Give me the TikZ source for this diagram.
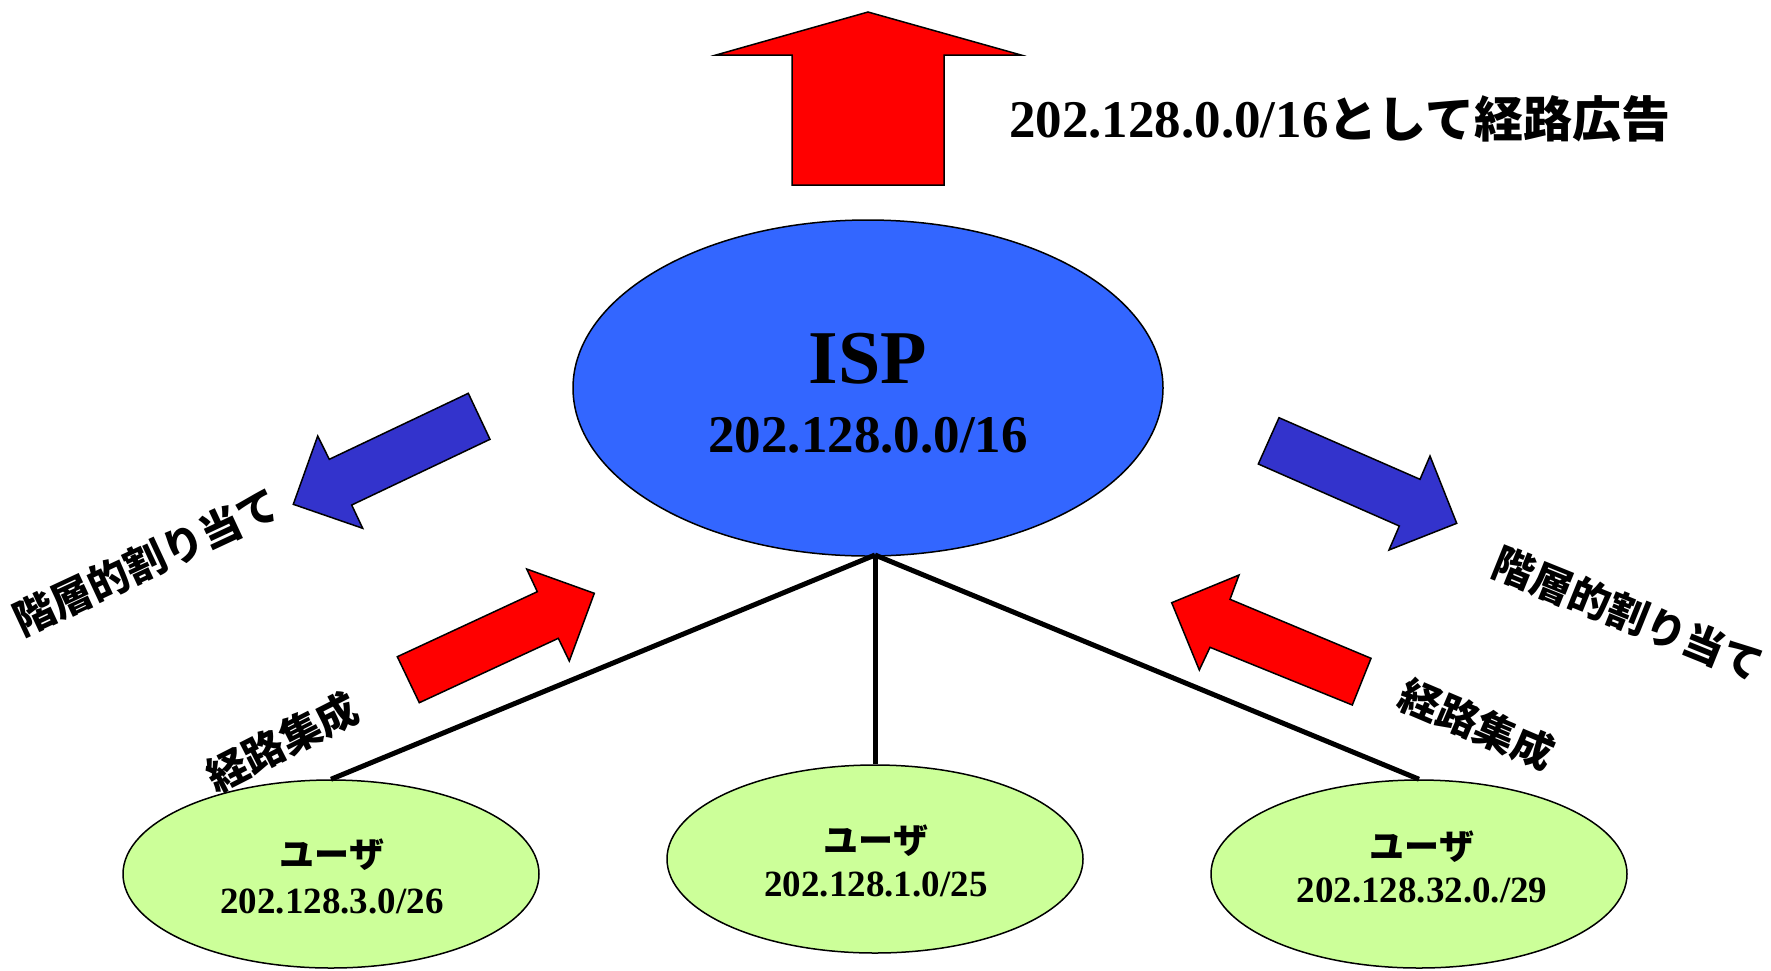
\documentclass[tikz,border=0pt]{standalone}
\usepackage{fontspec}
\setmainfont{Liberation Serif}
\newfontfamily\jp{Noto Sans CJK JP}
\usetikzlibrary{shapes.geometric}
\definecolor{ispblue}{HTML}{3366FF}
\definecolor{usergreen}{HTML}{CCFF99}
\definecolor{arrowred}{HTML}{FF0000}
\definecolor{arrowblue}{HTML}{3333CC}
\begin{document}
\begin{tikzpicture}[x=1pt,y=-1pt,
  ellbase/.style={ellipse, draw=black, line width=1.5pt, inner sep=0pt},
  ispell/.style={ellbase, fill=ispblue, minimum width=590pt, minimum height=336pt},
  userell/.style={ellbase, fill=usergreen, minimum width=416pt, minimum height=188pt},
  link/.style={line width=5pt},
  redarrow/.style={fill=arrowred, draw=black, line width=1.5pt, line join=miter},
  bluearrow/.style={fill=arrowblue, draw=black, line width=1.5pt, line join=miter},
  lbl/.style={inner sep=0pt, font=\jp\bfseries\fontsize{41}{45}\selectfont},
  usertxt/.style={inner sep=0pt, font=\jp\bfseries\fontsize{35}{40}\selectfont},
  iptxt/.style={inner sep=0pt, font=\bfseries\fontsize{37}{42}\selectfont},
]
\useasboundingbox (0,0) rectangle (1771,970);
% top arrow
\filldraw[redarrow] (868,12) -- (1021,55) -- (944,55) -- (944,185) -- (792,185) -- (792,55) -- (716,55) -- cycle;
\node[anchor=west, inner sep=0pt] (adv) at (1009,119) {\fontsize{53}{60}\selectfont\bfseries 202.128.0.0/16{\jp\fontsize{49}{55}\selectfont として経路広告}};
% ellipses
\node[ispell] (isp) at (868,388) {};
\node[userell] (u1) at (331,874) {};
\node[userell] (u2) at (875,859) {};
\node[userell] (u3) at (1419,874) {};
% texts
\node[inner sep=0pt] (ispname) at (868,359) {\fontsize{76}{80}\selectfont\bfseries ISP};
\node[inner sep=0pt] (ispnet) at (868,435) {\fontsize{53}{58}\selectfont\bfseries 202.128.0.0/16};
\node[usertxt] (u1a) at (332,855) {ユーザ};
\node[iptxt] (u1b) at (332,901) {202.128.3.0/26};
\node[usertxt] (u2a) at (876,841) {ユーザ};
\node[iptxt] (u2b) at (876,884) {202.128.1.0/25};
\node[usertxt] (u3a) at (1422,847) {ユーザ};
\node[iptxt] (u3b) at (1422,890) {202.128.32.0./29};
% links
\coordinate (hub) at (875,555);
\draw[link] (hub) -- (u1.north);
\draw[link] (hub) -- (u2.north);
\draw[link] (hub) -- (u3.north);
% side arrows
\filldraw[bluearrow] (468.3,393.3) -- (490,439.3) -- (351.7,505) -- (362.7,528.3) -- (293.3,504.3) -- (317.7,436) -- (329.3,459.3) -- cycle;
\filldraw[redarrow] (397.3,656.7) -- (537.3,591.7) -- (526.7,569) -- (594.3,593.3) -- (569.3,661) -- (558.3,638.3) -- (419.3,702.7) -- cycle;
\filldraw[bluearrow] (1279,417.7) -- (1420,479.3) -- (1430,456) -- (1456.7,523.3) -- (1389,550) -- (1399.3,526) -- (1258.3,464) -- cycle;
\filldraw[redarrow] (1171.7,602.7) -- (1239,575) -- (1230,599.3) -- (1371,658.3) -- (1352.3,705) -- (1210,647.3) -- (1199.3,670) -- cycle;
% rotated labels
\node[lbl, rotate=25] (allocL) at (146,562) {階層的割り当て};
\node[lbl, rotate=27] (aggrL) at (282,742) {経路集成};
\node[lbl, rotate=-22] (allocR) at (1628,614) {階層的割り当て};
\node[lbl, rotate=-23] (aggrR) at (1477,724) {経路集成};
\end{tikzpicture}
\end{document}
